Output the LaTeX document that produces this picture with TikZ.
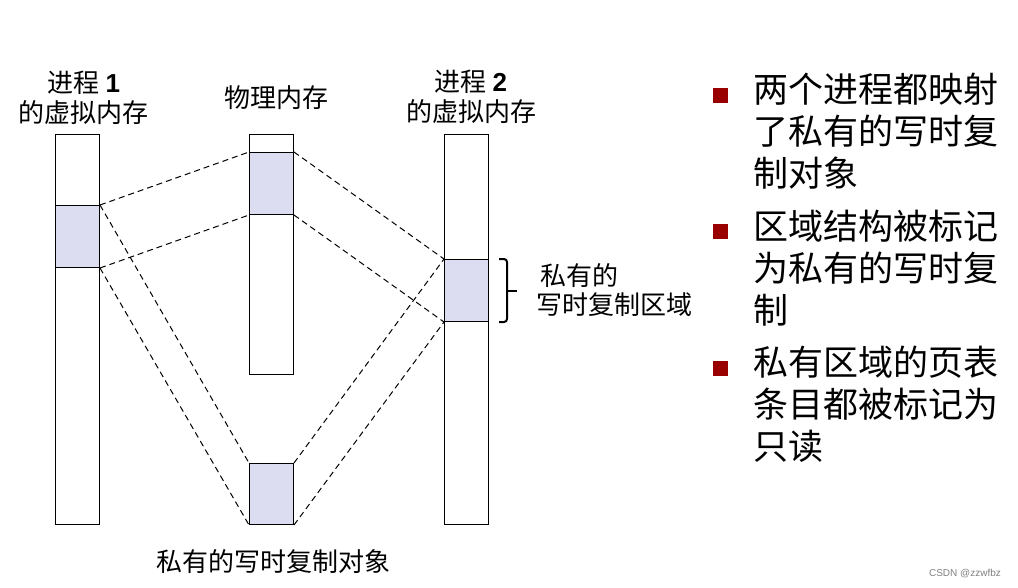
\documentclass[tikz,border=0pt]{standalone}
\usepackage{fontspec}
\setmainfont{Liberation Serif}
\newfontfamily\cjk{Noto Sans CJK SC}
\newfontfamily\arialf{Liberation Sans}
\usetikzlibrary{calc}
\definecolor{shadefill}{HTML}{DDDDF1}
\definecolor{bulred}{HTML}{990000}
\begin{document}
\begin{tikzpicture}[x=1pt,y=-1pt,
  col/.style={draw, line width=1pt, inner sep=0pt, anchor=north west, minimum width=44pt},
  seg/.style={col, fill=shadefill},
  map/.style={line width=1pt, dash pattern=on 6pt off 4pt},
  bracestyle/.style={line width=2pt, rounded corners=3pt},
  lbl/.style={inner sep=0pt, align=center, font=\cjk\fontsize{26}{29.5}\selectfont},
  bullettext/.style={inner sep=0pt, anchor=north west, align=left, font=\cjk\fontsize{35}{42}\selectfont},
  bulletsq/.style={fill=bulred, inner sep=0pt, minimum size=15pt, anchor=north west}]
\useasboundingbox (0,0) rectangle (1018,587);
% columns
\node[col, minimum height=390pt] (p1) at (55,134) {};
\node[seg, minimum height=62pt] (p1s) at (55,205) {};
\node[col, minimum height=240pt] (ph) at (249,134) {};
\node[seg, minimum height=62pt] (phs) at (249,152) {};
\node[seg, minimum height=61pt] (obj) at (249,463) {};
\node[col, minimum height=390pt] (p2) at (444,134) {};
\node[seg, minimum height=62pt] (p2s) at (444,259) {};
% mappings
\draw[map] (p1s.north east) -- (phs.north west);
\draw[map] (p1s.south east) -- (phs.south west);
\draw[map] (p1s.north east) -- (obj.north west);
\draw[map] (p1s.south east) -- (obj.south west);
\draw[map] (phs.north east) -- (p2s.north west);
\draw[map] (phs.south east) -- (p2s.south west);
\draw[map] (obj.north east) -- (p2s.north west);
\draw[map] (obj.south east) -- (p2s.south west);
% brace (bracket-like)
\coordinate (bra) at ([xshift=10pt]p2s.north east);
\coordinate (brb) at ([xshift=10pt]p2s.south east);
\coordinate (brm) at ($(bra)!0.5!(brb)$);
\draw[bracestyle] (bra) -- ++(8,0) -- ($(brm)+(8,0)$) -- ++(0,0);
\draw[line width=2pt] ($(brm)+(7,0)$) -- ($(brm)+(18,0)$);
\draw[bracestyle] ($(brm)+(8,0)$) -- ($(brb)+(8,0)$) -- (brb);
% labels
\node[lbl] (l1) at (84,98) {进程 {\arialf\bfseries 1}\\的虚拟内存};
\node[lbl] (l2) at (276,98) {物理内存};
\node[lbl] (l3) at (471,97) {进程 {\arialf\bfseries 2}\\的虚拟内存};
\node[lbl, align=left, anchor=west] (l4) at (536,290) {\,私有的\\写时复制区域};
\node[lbl] (l5) at (273,562) {私有的写时复制对象};
% bullets
\node[bulletsq] (s1) at (713,88) {};
\node[bulletsq] (s2) at (713,224) {};
\node[bulletsq] (s3) at (713,361) {};
\node[bullettext] (b1) at (753,73) {两个进程都映射\\了私有的写时复\\制对象};
\node[bullettext] (b2) at (753,210) {区域结构被标记\\为私有的写时复\\制};
\node[bullettext] (b3) at (753,346) {私有区域的页表\\条目都被标记为\\只读};
% watermark
\node[inner sep=0pt, text=black!50, font=\arialf\fontsize{10}{12}\selectfont] (wm) at (965,574) {CSDN @zzwfbz};
\end{tikzpicture}
\end{document}
